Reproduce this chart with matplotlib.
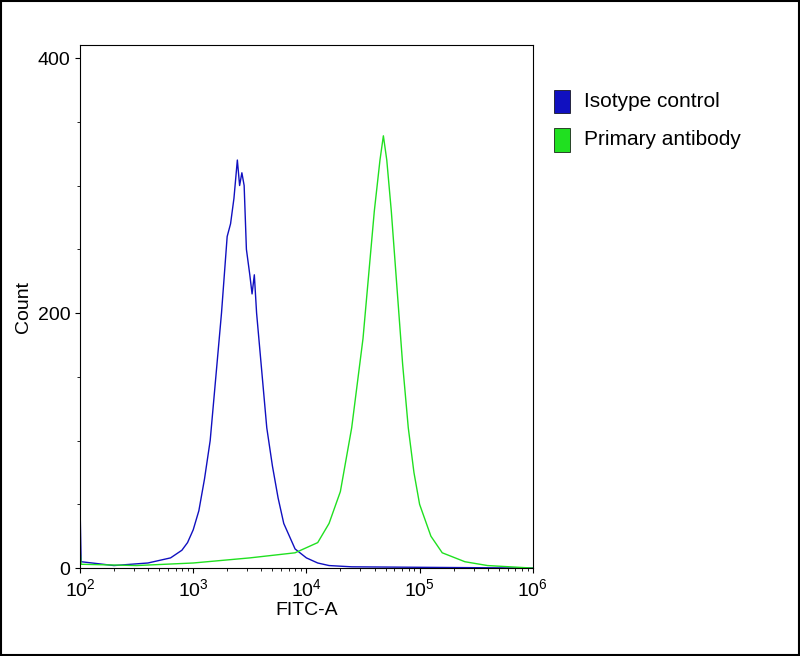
import matplotlib
matplotlib.use("Agg")
import matplotlib.pyplot as plt
from matplotlib.patches import Rectangle

plt.rcParams["font.family"] = ["Liberation Sans", "DejaVu Sans"]

# log10(FITC-A) positions and counts
iso_log = [2.0, 2.01, 2.3, 2.6, 2.8, 2.9, 2.95, 3.0, 3.05, 3.1, 3.15, 3.2, 3.25, 3.3, 3.33,
           3.36, 3.39, 3.41, 3.43, 3.45, 3.47, 3.5, 3.52, 3.54, 3.56, 3.6, 3.65, 3.7, 3.75,
           3.8, 3.9, 4.0, 4.1, 4.2, 4.4, 6.0]
iso_count = [50, 5, 2, 4, 8, 14, 20, 30, 45, 70, 100, 150, 200, 260, 270,
             290, 320, 300, 310, 300, 250, 230, 215, 230, 200, 160, 110, 80, 55,
             35, 15, 8, 4, 2, 1, 0]
pri_log = [2.0, 2.01, 2.5, 3.0, 3.5, 3.9, 4.1, 4.2, 4.3, 4.4, 4.5, 4.55, 4.6, 4.65, 4.68,
           4.71, 4.75, 4.8, 4.85, 4.9, 4.95, 5.0, 5.1, 5.2, 5.4, 5.6, 6.0]
pri_count = [15, 3, 2, 4, 8, 12, 20, 35, 60, 110, 180, 230, 280, 320, 339,
             320, 280, 220, 160, 110, 75, 50, 25, 12, 5, 2, 0]
labels = ["Isotype control", "Primary antibody"]
colors = ["#1010c0", "#20e020"]

fig = plt.figure(figsize=(8, 6.56), dpi=100)
ax = fig.add_axes([0.1, 0.134, 0.566, 0.797])
ax.plot([10 ** v for v in iso_log], iso_count, color=colors[0], lw=1)
ax.plot([10 ** v for v in pri_log], pri_count, color=colors[1], lw=1)
ax.set_xscale("log")
ax.set_xlim(1e2, 1e6)
ax.set_ylim(0, 410)
ax.set_yticks([0, 200, 400])
ax.set_yticks([50, 100, 150, 250, 300, 350], minor=True)
ax.set_xlabel("FITC-A", fontsize=14, labelpad=2)
ax.set_ylabel("Count", fontsize=14)
ax.tick_params(labelsize=14)

# legend boxes at the right
for i, (lab, c) in enumerate(zip(labels, colors)):
    y = 0.845 - i * 0.058
    fig.patches.append(Rectangle((0.693, y - 0.018), 0.02, 0.036, transform=fig.transFigure,
                                 facecolor=c, edgecolor="black", lw=0.5))
    fig.text(0.73, y, lab, fontsize=15, va="center")

fig.patches.append(Rectangle((0.001, 0.001), 0.998, 0.998, transform=fig.transFigure,
                             fill=False, edgecolor="black", lw=1.5))
fig.savefig("out.png", dpi=100)
